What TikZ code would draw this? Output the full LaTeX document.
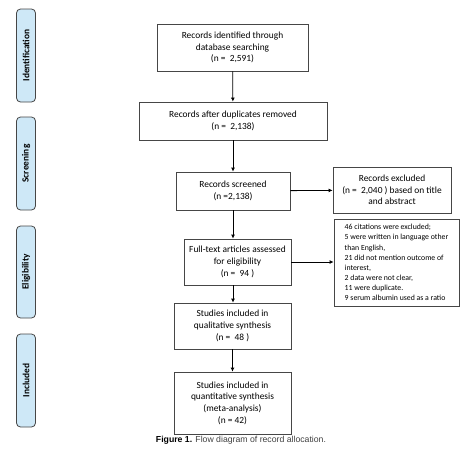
\documentclass[tikz,border=0pt]{standalone}
\usepackage{fontspec}
\setmainfont{Carlito}
\newfontfamily\capfont{Liberation Sans}
\usepackage{tikz}
\usetikzlibrary{arrows.meta}

\definecolor{phaseblue}{RGB}{206,232,247}
\definecolor{edgegray}{RGB}{70,70,70}

\begin{document}
\begin{tikzpicture}[x = 1pt, y = -1pt, line width = 0.8pt,
                        box/.style = {draw = edgegray, align = center, inner sep = 2pt, font = \fontsize{9.4}{11.7}\selectfont},
                        note/.style = {draw = edgegray, align = left, inner xsep = 7pt, font = \fontsize{7.8}{10.1}\selectfont},
                        phase/.style = {draw = edgegray, fill = phaseblue, rounded corners = 4pt, rotate = 90,
                                        minimum height = 19pt, font = \bfseries\fontsize{9.4}{10}\selectfont},
                        flow/.style = {draw = black, -{Latex[length = 4pt, width = 4pt]}}]
      \useasboundingbox (0, 0) rectangle (474, 450);
      % phases on the left
      \node [phase, minimum width = 93pt] (ident) at (26, 55.5){Identification};
      \node [phase, minimum width = 93pt] (screen) at (26, 163.5){Screening};
      \node [phase, minimum width = 92pt] (elig) at (26, 272){Eligibility};
      \node [phase, minimum width = 93pt] (incl) at (26, 380.5){Included};
      % main column
      \node [box, minimum width = 151pt, minimum height = 47pt] (found) at (232.5, 47.5){Records identified through\\ database searching\\ (n =\ \ 2,591)};
      \node [box, minimum width = 188pt, minimum height = 38pt] (dedup) at (233, 121){Records after duplicates removed\\ (n =\ \ 2,138)};
      \node [box, minimum width = 114pt, minimum height = 38pt] (screened) at (233, 191){Records screened\\ (n =2,138)};
      \node [box, minimum width = 107pt, minimum height = 46pt] (fulltext) at (237.5, 262){Full-text articles assessed\\ for eligibility\\ (n =\ \ 94 )};
      \node [box, minimum width = 117pt, minimum height = 46pt] (qual) at (232.5, 326){Studies included in\\ qualitative synthesis\\ (n =\ \ 48 )};
      \node [box, minimum width = 117pt, minimum height = 62pt] (quant) at (232.5, 403){Studies included in\\ quantitative synthesis\\ (meta-analysis)\\ (n = 42)};
      % exclusions
      \node [box, minimum width = 118pt, minimum height = 46pt] (excl) at (392, 190){Records excluded\\ (n =\ \ 2,040 ) based on title\\ and abstract};
      \node [note, minimum width = 125pt, minimum height = 87pt] (reasons) at (396.5, 262.5){46 citations were excluded;\\ 5 were written in language other\\ than English,\\ 21 did not mention outcome of\\ interest,\\ 2 data were not clear,\\ 11 were duplicate.\\ 9 serum albumin used as a ratio};
      \draw [flow] (found) -- (dedup);
      \draw [flow] (dedup) -- (screened);
      \draw [flow] (screened.south) -- (screened.south |- fulltext.north);
      \draw [flow] (screened.south |- fulltext.south) -- (screened.south |- qual.north);
      \draw [flow] (qual) -- (quant);
      \draw [flow] (screened) -- (excl);
      \draw [flow] (fulltext.east) -- (fulltext.east -| reasons.west);
      % caption
      \node [font = \capfont\fontsize{8.7}{10}\selectfont, text = black!75] (caption) at (241, 440){\textbf{\color{black}Figure 1.} Flow diagram of record allocation.};
    \end{tikzpicture}
\end{document}
